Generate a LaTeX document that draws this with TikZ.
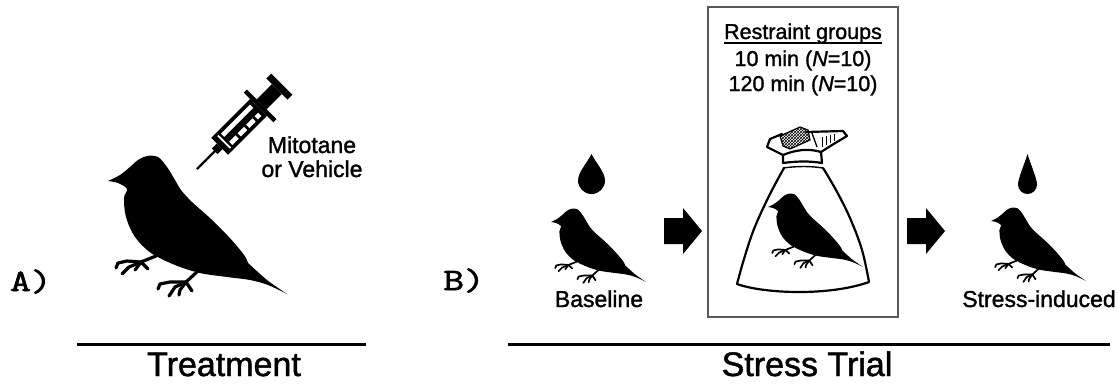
\documentclass[tikz,border=0pt]{standalone}
\usepackage{fontspec}
\setmainfont{Liberation Sans}[FakeBold=1.4]
\newfontfamily\panelfont{Latin Modern Mono}[FakeBold=2.4, FakeStretch=1.3]
\usetikzlibrary{calc,patterns}

% Songbird silhouette; beak tip at (#1,#2), scaled by #3
\newcommand\songbird[3]{%
  \begin{scope}[shift={(#1,#2)}, yscale=-1, scale=#3]
    \fill plot[smooth, tension=0.55] coordinates {
        (0,0) (12,6) (22,14) (30,21) (39,25) (50,24) (59,14) (67,1) (73,-9)
        (84,-21) (103,-38) (120,-55) (133,-70) (138,-77) (140,-82)}
      -- plot[smooth, tension=0.4] coordinates {(140,-82) (159,-99) (179,-113)}
      -- plot[smooth, tension=0.55] coordinates {
        (179,-113) (160,-104) (142,-99) (119,-96) (92,-92) (67,-84) (43,-72)
        (27,-56) (18,-36) (16,-17) (19,-8) (10,-2) (0,0)}
      -- cycle;
    \begin{scope}[line width=3.2pt*#3, line cap=round, line join=round]
      % near foot
      \draw (48,-75) -- (33,-81);
      \draw (33,-81) -- (19,-80) -- (10,-82) -- (8,-87);
      \draw (33,-81) -- (21,-86) -- (14,-93);
      \draw (33,-81) -- (27,-89);
      \draw (33,-81) -- (40,-88);
      % far foot
      \draw (90,-90) -- (78,-101);
      \draw (78,-101) -- (62,-101) -- (52,-103) -- (50,-108);
      \draw (78,-101) -- (67,-106) -- (61,-115);
      \draw (78,-101) -- (72,-109) -- (71,-114);
      \draw (78,-101) -- (84,-110);
    \end{scope}
  \end{scope}}

% Drop; bottom centre at (#1,#2), radius #3, height #4
\newcommand\blooddrop[4]{%
  \begin{scope}[shift={(#1,#2)}, yscale=-1]
    \fill (0,#4) .. controls ({0.35*#3},{#4-0.35*(#4-#3)}) and (#3,{1.6*#3}) .. (#3,#3)
      arc[start angle=0, end angle=-180, radius=#3]
      .. controls (-#3,{1.6*#3}) and ({-0.35*#3},{#4-0.35*(#4-#3)}) .. (0,#4) -- cycle;
  \end{scope}}

\begin{document}
\begin{tikzpicture}[x=1pt, y=-1pt,
  lab/.style={font=\fontsize{23}{26}\selectfont, inner sep=0pt, anchor=base},
  boxtxt/.style={font=\fontsize{21.5}{25}\selectfont, inner sep=0pt, anchor=base},
  caption/.style={font=\fontsize{34}{40}\selectfont, inner sep=0pt, anchor=base},
  panel/.style={font=\fontsize{31}{34}\panelfont, inner sep=0pt, anchor=base west},
  rulebar/.style={line width=3pt},
  bagline/.style={line width=2.2pt, line cap=round, line join=round},
  blockarrow/.style={fill=black}]
\useasboundingbox (0,0) rectangle (1119,384);

% ---------------- Panel A: treatment ----------------
\songbird{108}{181}{1}

% syringe
\begin{scope}[shift={(197,169)}, rotate=45]
  \draw[line width=2.4pt] (0,0) -- (26,0);
  \fill (25,-4) rectangle (32,4);
  \fill (32,-12) rectangle (87,12);
  \fill[white] (37.5,-9) rectangle (39.3,9);
  \fill[white] (42,-8) rectangle (83,-3.4);
  \fill[white] (42,3.4) rectangle (51,8);
  \fill[white] (54,3.4) rectangle (63,8);
  \fill[white] (66,3.4) rectangle (75,8);
  \fill[white] (78,3.4) rectangle (83,8);
  \fill (87,-21) rectangle (91.5,21);
  \fill (91.5,-7) rectangle (113,7);
  \fill (113,-15) rectangle (120,15);
\end{scope}

\node[lab] (mit1) at (312,153) {Mitotane};
\node[lab] (mit2) at (312,177) {or Vehicle};

\node[panel] (pA) at (10,291) {A)};

\coordinate (treatL) at (77,344);
\coordinate (treatR) at (366,344);
\draw[rulebar] (treatL) -- (treatR);
\node[caption] (treat) at (224,376) {Treatment};

% ---------------- Panel B: stress trial ----------------
\node[panel] (pB) at (443,290) {B)};

% baseline sample
\blooddrop{591.5}{194}{13.5}{40}
\songbird{551}{222}{0.53}
\node[lab] (base) at (599,307) {Baseline};

% arrow into restraint
\fill[blockarrow] (664,218) -- (683,218) -- (683,208) -- (702,231) -- (683,254) -- (683,244) -- (664,244) -- cycle;

% restraint box
\node[draw=black!65, line width=1.3pt, minimum width=190pt, minimum height=310pt, inner sep=0pt]
  (rbox) at (803,162) {};
\node[boxtxt] (rg) at (803,39) {Restraint groups};
\draw[line width=1.4pt] ($(rg.base west)+(0,4)$) -- ($(rg.base east)+(0,4)$);
\node[boxtxt] (g1) at (803,66) {10 min (\textit{N}=10)};
\node[boxtxt] (g2) at (803,91) {120 min (\textit{N}=10)};

% bag
\draw[bagline] (783,163) -- (783,155) -- (767,147) -- (770,139) -- (782,134);
\draw[bagline] (806,132) -- (843,131) -- (847,136) -- (832,145) -- (821,152) -- (822,163);
\draw[bagline] (783,155) .. controls (795,150) and (808,148) .. (821,152);
\filldraw[pattern=crosshatch, line width=1.2pt] (780,136) -- (800,127) -- (808,130) -- (810,140) -- (790,149) -- (783,146) -- cycle;
\draw[line width=0.9pt] (822,137) -- (822,147) (826,136) -- (826,145) (830,135) -- (830,143) (834,134) -- (834,141);
\draw[line width=1.3pt] (812,133) -- (817,147);
\draw[bagline] (783,163) .. controls (798,161) and (810,161) .. (822,163);
\draw[line width=1.4pt] (783,168) .. controls (798,166) and (810,166) .. (823,168);
\draw[bagline] plot[smooth, tension=0.6] coordinates {(784,168) (769,196) (754,229) (744,259) (737,284)}
  .. controls (765,294) and (830,296) .. (869,282)
  -- plot[smooth, tension=0.6] coordinates {(869,282) (862,250) (850,218) (836,190) (823,168)};
\songbird{768}{207}{0.53}

% arrow out of restraint
\fill[blockarrow] (907,218) -- (926,218) -- (926,208) -- (945,231) -- (926,254) -- (926,244) -- (907,244) -- cycle;

% stress-induced sample
\blooddrop{1027.5}{194}{9.5}{40}
\songbird{991}{221}{0.53}
\node[lab] (stress) at (1039,307) {Stress-induced};

\coordinate (trialL) at (508,344);
\coordinate (trialR) at (1110,344);
\draw[rulebar] (trialL) -- (trialR);
\node[caption] (trial) at (807,376) {Stress Trial};
\end{tikzpicture}
\end{document}
